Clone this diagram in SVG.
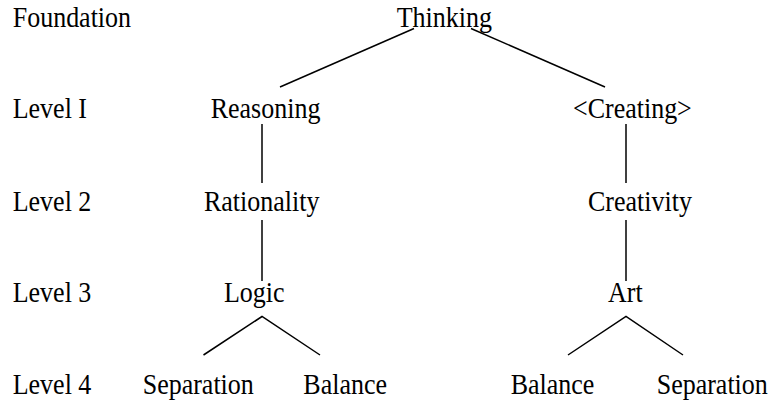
<svg xmlns="http://www.w3.org/2000/svg" width="771" height="402" viewBox="0 0 771 402">
<style>
text { font-family: "Liberation Serif", "Times New Roman", serif; font-size: 26px; fill: #000; }
.edge { stroke: #000; stroke-width: 1.5; fill: none; stroke-linecap: butt; }
</style>
<rect width="771" height="402" fill="#fff"/>
<g id="levels">
<text transform="translate(12.7,26.7) scale(1,1.15)">Foundation</text>
<text transform="translate(12.7,118.3) scale(1,1.15)">Level I</text>
<text transform="translate(12.7,210.5) scale(1,1.15)">Level 2</text>
<text transform="translate(12.7,301.7) scale(1,1.15)">Level 3</text>
<text transform="translate(12.7,394) scale(1,1.15)">Level 4</text>
</g>
<g id="connectors">
<line class="edge" x1="414" y1="28.5" x2="280" y2="87"/>
<line class="edge" x1="471" y1="28.5" x2="605" y2="87"/>
<line class="edge" x1="262" y1="124" x2="262" y2="183"/>
<line class="edge" x1="262" y1="220" x2="262" y2="281"/>
<line class="edge" x1="626" y1="124" x2="626" y2="183"/>
<line class="edge" x1="626" y1="220" x2="626" y2="281"/>
<polyline class="edge" points="203.5,355 262,316.5 320,355"/>
<polyline class="edge" points="568,355 626,316.5 683,355"/>
</g>
<g id="thinking"><text transform="translate(396.7,26.7) scale(1,1.15)">Thinking</text></g>
<g id="reasoning"><text transform="translate(210.7,118.3) scale(1,1.15)">Reasoning</text></g>
<g id="creating"><text transform="translate(573,118.3) scale(1,1.15)">&lt;Creating&gt;</text></g>
<g id="rationality"><text transform="translate(204,210.5) scale(1,1.15)">Rationality</text></g>
<g id="creativity"><text transform="translate(588,210.5) scale(1,1.15)">Creativity</text></g>
<g id="logic"><text transform="translate(224,301.7) scale(1,1.15)">Logic</text></g>
<g id="art"><text transform="translate(608,301.7) scale(1,1.15)">Art</text></g>
<g id="separation-left"><text transform="translate(142.7,394) scale(1,1.15)">Separation</text></g>
<g id="balance-left"><text transform="translate(303.3,394) scale(1,1.15)">Balance</text></g>
<g id="balance-right"><text transform="translate(510.7,394) scale(1,1.15)">Balance</text></g>
<g id="separation-right"><text transform="translate(656.7,394) scale(1,1.15)">Separation</text></g>
</svg>
